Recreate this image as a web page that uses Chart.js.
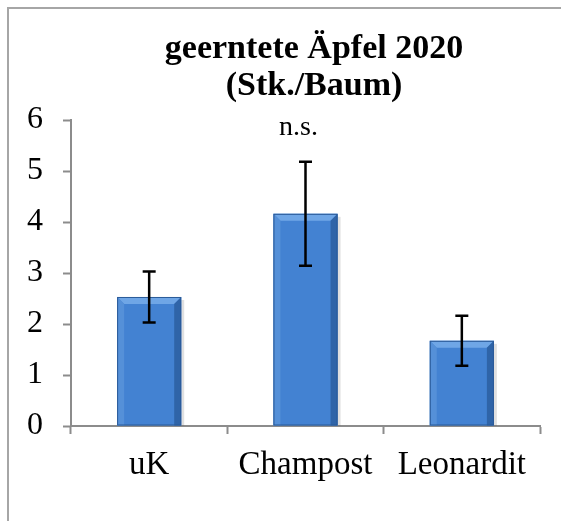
<!DOCTYPE html>
<html>
<head>
<meta charset="utf-8">
<script src="https://cdn.jsdelivr.net/npm/chart.js@4"></script>
<style>
  body { margin: 0; background: #fff; }
  canvas { display: block; }
</style>
</head>
<body>
<canvas id="aepfelChart" width="561" height="521"></canvas>
<script>
// geerntete Äpfel 2020 (Stk./Baum)
const categories = ['uK', 'Champost', 'Leonardit'];
const meanValues = [2.53, 4.16, 1.67];
const errorValues = [0.5, 1.02, 0.49];
const sigLabels = ['', 'n.s.', ''];
const yTicks = [0, 1, 2, 3, 4, 5, 6];
const titleLines = ['geerntete Äpfel 2020', '(Stk./Baum)'];

const axisGrey = '#8c8c8c';
const serif = "'Liberation Serif', 'Times New Roman', serif";

// frame around the picture (left + top edge only visible) and title
const framePlugin = {
  id: 'frame',
  beforeDraw(chart) {
    const ctx = chart.ctx;
    ctx.save();
    ctx.fillStyle = '#fff';
    ctx.fillRect(0, 0, chart.width, chart.height);
    ctx.strokeStyle = '#a6a6a6';
    ctx.lineWidth = 2;
    ctx.beginPath();
    ctx.moveTo(8, chart.height);
    ctx.lineTo(8, 8);
    ctx.lineTo(chart.width, 8);
    ctx.stroke();

    // title, centred a bit right of the canvas middle like the original
    ctx.fillStyle = '#000';
    ctx.font = 'bold 34px ' + serif;
    ctx.textAlign = 'center';
    ctx.textBaseline = 'alphabetic';
    ctx.fillText(titleLines[0], 314, 58);
    ctx.fillText(titleLines[1], 314, 95);
    ctx.restore();
  }
};

// bevel look on the bars
const bevelPlugin = {
  id: 'bevel',
  afterDatasetsDraw(chart) {
    const ctx = chart.ctx;
    const meta = chart.getDatasetMeta(0);
    ctx.save();
    meta.data.forEach(bar => {
      const { x, y, base, width } = bar.getProps(['x', 'y', 'base', 'width'], true);
      const l = x - width / 2, r = x + width / 2, b = 7;
      // soft shadow at right side
      ctx.fillStyle = 'rgba(0,0,0,0.12)';
      ctx.fillRect(r, y + 3, 3, base - y - 3);
      // top bevel
      ctx.fillStyle = '#6fa6e6';
      ctx.beginPath();
      ctx.moveTo(l, y); ctx.lineTo(r, y); ctx.lineTo(r - b, y + b); ctx.lineTo(l + b, y + b);
      ctx.closePath(); ctx.fill();
      // left bevel
      ctx.fillStyle = '#5590d8';
      ctx.beginPath();
      ctx.moveTo(l, y); ctx.lineTo(l + b, y + b); ctx.lineTo(l + b, base); ctx.lineTo(l, base);
      ctx.closePath(); ctx.fill();
      // right bevel
      ctx.fillStyle = '#2f64a8';
      ctx.beginPath();
      ctx.moveTo(r, y); ctx.lineTo(r - b, y + b); ctx.lineTo(r - b, base); ctx.lineTo(r, base);
      ctx.closePath(); ctx.fill();
      ctx.strokeStyle = '#2a5a98';
      ctx.lineWidth = 1;
      ctx.strokeRect(l + 0.5, y + 0.5, width - 1, base - y - 1);
    });
    ctx.restore();
  }
};

// error bars + significance label
const errorBarPlugin = {
  id: 'errorBars',
  afterDatasetsDraw(chart) {
    const ctx = chart.ctx;
    const yScale = chart.scales.y;
    const xScale = chart.scales.x;
    ctx.save();
    ctx.strokeStyle = '#000';
    ctx.lineWidth = 2.5;
    meanValues.forEach((v, i) => {
      const x = xScale.getPixelForValue(i);
      const yHi = yScale.getPixelForValue(v + errorValues[i]);
      const yLo = yScale.getPixelForValue(v - errorValues[i]);
      ctx.beginPath();
      ctx.moveTo(x, yHi); ctx.lineTo(x, yLo);
      ctx.moveTo(x - 6.5, yHi); ctx.lineTo(x + 6.5, yHi);
      ctx.moveTo(x - 6.5, yLo); ctx.lineTo(x + 6.5, yLo);
      ctx.stroke();
    });
    ctx.fillStyle = '#000';
    ctx.font = '28px ' + serif;
    ctx.textAlign = 'center';
    ctx.textBaseline = 'alphabetic';
    sigLabels.forEach((s, i) => {
      if (!s) return;
      ctx.fillText(s, xScale.getPixelForValue(i) - 7, yScale.getPixelForValue(6) + 15);
    });
    ctx.restore();
  }
};

document.addEventListener('DOMContentLoaded', () => {
  const ctx = document.getElementById('aepfelChart');

  new Chart(ctx, {
    type: 'bar',
    data: {
      labels: categories,
      datasets: [{
        label: 'Stk./Baum',
        data: meanValues,
        backgroundColor: '#4382d2',
        borderWidth: 0,
        barPercentage: 0.41,
        categoryPercentage: 1
      }]
    },
    options: {
      responsive: false,
      animation: false,
      layout: { padding: { left: 0, right: 21, top: 120, bottom: 0 } },
      plugins: {
        legend: { display: false },
        tooltip: { enabled: false },
        title: { display: false }
      },
      scales: {
        x: {
          grid: {
            offset: true,
            drawOnChartArea: false,
            drawTicks: true,
            tickLength: 8,
            tickWidth: 2,
            tickColor: axisGrey
          },
          border: { color: axisGrey, width: 2 },
          ticks: {
            color: '#000',
            padding: 12,
            font: { family: serif, size: 33 },
            maxRotation: 0
          },
          afterFit(scale) { scale.height = 95; }
        },
        y: {
          min: 0,
          max: 6,
          afterBuildTicks(scale) { scale.ticks = yTicks.map(v => ({ value: v })); },
          grid: {
            drawOnChartArea: false,
            drawTicks: true,
            tickLength: 8,
            tickWidth: 2,
            tickColor: axisGrey
          },
          border: { color: axisGrey, width: 2 },
          ticks: {
            color: '#000',
            padding: 20,
            font: { family: serif, size: 32 }
          },
          afterFit(scale) { scale.width = 71; }
        }
      }
    },
    plugins: [framePlugin, bevelPlugin, errorBarPlugin]
  });
});
</script>
</body>
</html>
